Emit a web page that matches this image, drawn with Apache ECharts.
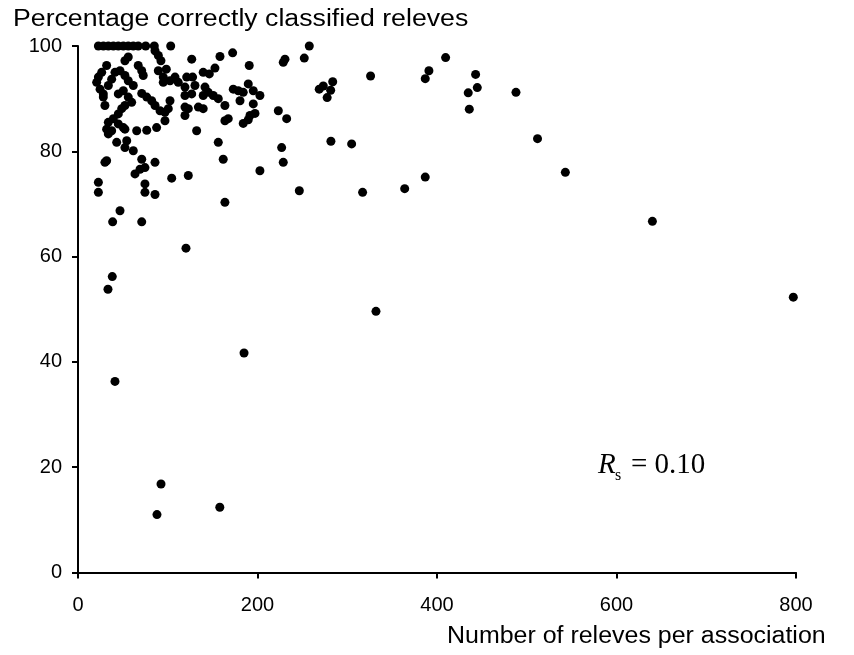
<!DOCTYPE html>
<html>
<head>
<meta charset="utf-8">
<script src="https://cdn.jsdelivr.net/npm/echarts@6/dist/echarts.min.js"></script>
<style>
html,body{margin:0;padding:0;background:#fff;}
#chart{width:854px;height:655px;}
</style>
</head>
<body>
<div id="chart"></div>
<script>
// Number of releves per association (x) and percentage correctly classified releves (y)
var releves = [
  22.7, 28.3, 33.8, 39.4, 44.9, 50.5, 56.0, 61.6, 67.1, 75.4, 85.0, 103.3, 257.7,
  85.8, 89.5, 92.4, 56.0, 52.3,
  31.9, 26.4, 22.7, 20.8, 24.6, 28.2,
  41.2, 37.5, 33.8, 46.8, 52.3, 56.0, 61.6,
  67.1, 71.0, 72.7, 89.5, 95.0, 98.4,
  95.0, 102.5, 108.1, 111.7, 28.2, 30.0,
  44.9, 50.5, 56.0, 59.8, 52.3, 48.7, 44.9, 39.4,
  71.0, 76.6, 82.1, 85.8, 91.4, 96.9, 100.6, 102.5,
  33.8, 31.9, 33.8, 37.5, 44.9, 50.5, 52.3, 65.4, 76.6, 87.6, 96.9,
  43.1, 54.3, 52.3, 61.6, 30.0, 31.9, 71.0, 74.6, 69.1, 63.5, 85.8, 104.4,
  22.7, 22.7, 74.6, 74.6, 85.8, 46.8,
  38.6, 71.0, 120.3, 38.2, 33.4, 41.2,
  163.7, 184.1, 189.7, 191.6, 197.2, 132.2, 156.3, 161.8, 226.9, 228.7, 122.9, 202.7, 163.7,
  126.7, 158.2, 172.3, 190.8, 228.7, 230.6, 121.1, 127.7, 139.5, 146.3, 152.6,
  119.2, 130.3, 126.7, 119.2, 141.5, 145.1, 139.5, 150.7, 156.3,
  173.0, 178.6, 184.1, 180.5, 189.7, 195.3, 202.7, 195.3, 163.7,
  119.2, 122.9, 119.2, 134.1, 139.5, 167.4, 223.2, 232.5,
  252.1, 326.0, 268.8, 273.3, 283.8, 281.5, 277.6, 281.8, 304.9,
  246.6, 317.1, 364.0, 386.9, 391.0, 386.9, 409.6, 443.0, 444.9, 434.8, 436.0,
  185, 92.5, 88, 158, 332, 797, 640, 543, 512, 488
];
var pctCorrect = [
  100, 100, 100, 100, 100, 100, 100, 100, 100, 100, 100, 100, 100,
  99.1, 98.2, 97.2, 97.9, 97.2,
  96.3, 95, 94.1, 93.1, 91.8, 90.9,
  95, 93.7, 92.5, 95.3, 94.4, 93.4, 92.5,
  96.3, 95.3, 94.4, 95.3, 94.1, 95.6,
  93.1, 93.4, 94.1, 93.1, 90.3, 88.7,
  90.9, 91.5, 90.3, 89.3, 88.7, 88.1, 87.1, 86.2,
  91, 90.3, 89.6, 88.7, 87.7, 87.4, 88.1, 89.6,
  85.5, 84.2, 83.3, 83.9, 85.2, 84.5, 84.2, 83.9, 84, 84.5, 85.8,
  81.7, 82, 80.7, 80.1, 77.9, 78.2, 78.5, 76.9, 76.6, 75.7, 77.9, 74.9,
  74.1, 72.2, 73.8, 72.2, 71.8, 68.7,
  66.6, 66.6, 61.6, 56.2, 53.8, 36.3,
  85.8, 85.3, 86, 86.8, 87.2, 83.9, 81.7, 78.5, 80.7, 77.9, 75.4, 76.3, 70.3,
  97.5, 98, 98.7, 96.3, 96.9, 97.5, 94.1, 94.1, 95, 94.7, 95.8,
  92.2, 92.5, 90.9, 90.6, 92.2, 91.2, 90.6, 90.6, 90,
  91.8, 91.5, 91.2, 89.6, 92.8, 91.5, 90.6, 89, 88.7,
  88.4, 88.1, 86.8, 88.4, 88.1, 86.2, 87.7, 86.2,
  97.7, 94.3, 91.8, 92.4, 93.2, 91.6, 90.2, 81.9, 81.4,
  72.5, 72.2, 72.9, 75.1, 95.3, 93.8, 97.8, 94.6, 92.1, 91.1, 88,
  41.7, 16.8, 11, 12.4, 49.6, 52.3, 66.7, 76, 82.4, 91.2
];
var xTicks = [0, 200, 400, 600, 800];
var yTicks = [0, 20, 40, 60, 80, 100];

var points = releves.map(function (v, i) { return [v, pctCorrect[i]]; });

var chart = echarts.init(document.getElementById('chart'), null, {renderer: 'canvas'});
var fontFam = '"Liberation Sans", Arial, sans-serif';
var serif = '"Liberation Serif", "Times New Roman", serif';
chart.setOption({
  animation: false,
  backgroundColor: '#ffffff',
  grid: {left: 78, right: 58, top: 46, bottom: 82.5, containLabel: false},
  xAxis: {
    type: 'value', min: xTicks[0], max: xTicks[xTicks.length - 1], interval: 200,
    axisLine: {show: true, onZero: false, lineStyle: {color: '#000', width: 2}},
    axisTick: {show: true, length: 6, lineStyle: {color: '#000', width: 2}},
    axisLabel: {color: '#000', fontSize: 20, fontFamily: fontFam, margin: 23},
    splitLine: {show: false}
  },
  yAxis: {
    type: 'value', min: yTicks[0], max: yTicks[yTicks.length - 1], interval: 20,
    axisLine: {show: true, onZero: false, lineStyle: {color: '#000', width: 2}},
    axisTick: {show: true, length: 6, lineStyle: {color: '#000', width: 2}},
    axisLabel: {color: '#000', fontSize: 20, fontFamily: fontFam, margin: 16},
    splitLine: {show: false}
  },
  graphic: [
    {type: 'text', left: 13, top: 8, scaleX: 1.16,
     style: {text: 'Percentage correctly classified releves', fill: '#000', font: '23px ' + fontFam}},
    {type: 'text', left: 447, top: 625, scaleX: 1.085,
     style: {text: 'Number of releves per association', fill: '#000', font: '23px ' + fontFam}},
    {type: 'text', left: 598, top: 451,
     style: {text: 'R', fill: '#000', font: 'italic 29px ' + serif}},
    {type: 'text', left: 615, top: 468,
     style: {text: 's', fill: '#000', font: '16px ' + serif}},
    {type: 'text', left: 631, top: 451,
     style: {text: '= 0.10', fill: '#000', font: '29px ' + serif}}
  ],
  series: [{
    type: 'scatter',
    data: points,
    symbol: 'circle',
    symbolSize: 9,
    itemStyle: {color: '#000', opacity: 1},
    silent: true
  }]
});
</script>
</body>
</html>
